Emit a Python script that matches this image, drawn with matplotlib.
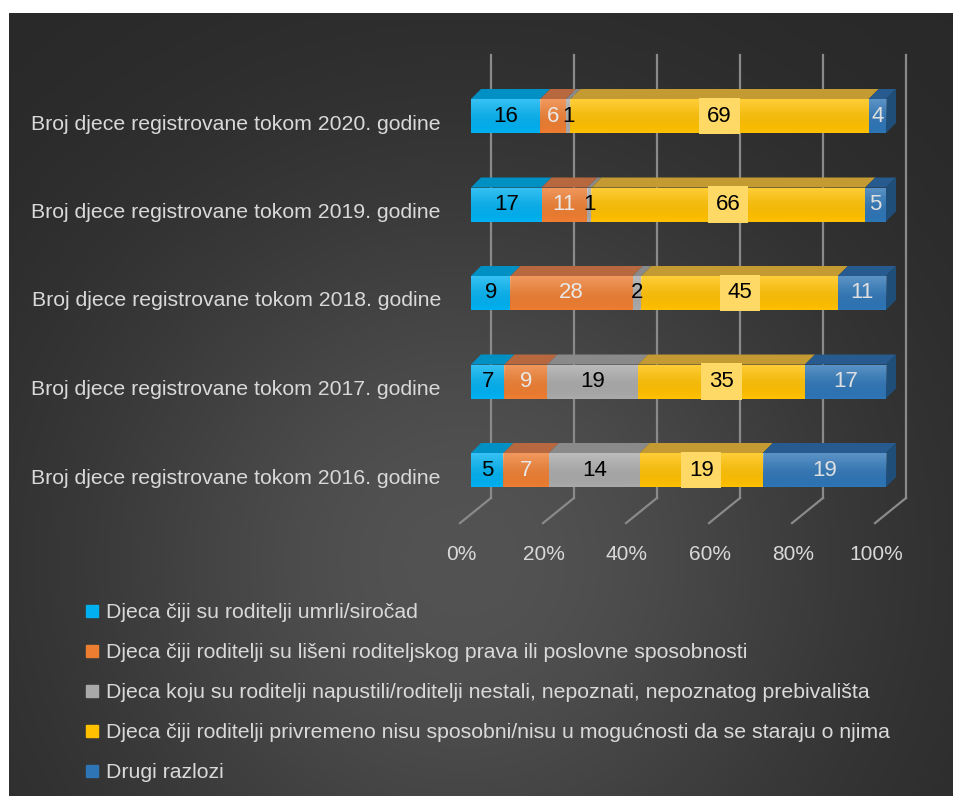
import numpy as np
import matplotlib.pyplot as plt
from matplotlib.patches import Polygon
from matplotlib.lines import Line2D
from matplotlib.transforms import ScaledTranslation

plt.rcParams['font.family'] = ['Liberation Sans', 'DejaVu Sans']

# data (bottom -> top)
years = ['2016', '2017', '2018', '2019', '2020']
categories = ['Broj djece registrovane tokom %s. godine' % y for y in years]
umrli = [5, 7, 9, 17, 16]
liseni = [7, 9, 28, 11, 6]
napustili = [14, 19, 2, 1, 1]
privremeno = [19, 35, 45, 66, 69]
drugi = [19, 17, 11, 5, 4]
series_names = ['Djeca čiji su roditelji umrli/siročad',
                'Djeca čiji roditelji su lišeni roditeljskog prava ili poslovne sposobnosti',
                'Djeca koju su roditelji napustili/roditelji nestali, nepoznati, nepoznatog prebivališta',
                'Djeca čiji roditelji privremeno nisu sposobni/nisu u mogućnosti da se staraju o njima',
                'Drugi razlozi']
ticks = [0, 20, 40, 60, 80, 100]

front = ['#00B0F0', '#ED7D31', '#A9A9A9', '#FFC000', '#2E75B6']
top = ['#0090C4', '#B8683E', '#8A8A8A', '#C49A32', '#275A8E']
lab_col = ['black', '#e8e8e8', 'black', 'black', '#e0e0e0']
txt = '#d9d9d9'

W, H = 954, 796
fig = plt.figure(figsize=(W / 100, H / 100), dpi=100)
fig.patch.set_facecolor('white')

# background panel with soft gradient
bg = fig.add_axes([9 / W, 0, 1 - 9 / W, (H - 13) / H])
gx, gy = np.meshgrid(np.linspace(0, 1, 300), np.linspace(0, 1, 300))
grad = 0.155 + 0.17 * np.exp(-((gx - 0.48) / 0.42) ** 2 - ((gy - 0.7) / 0.5) ** 2)
bg.imshow(np.dstack([grad] * 3), aspect='auto', extent=[0, 1, 1, 0])
bg.axis('off')

# main axes: x in percent, y in category units
ppx = 4.15    # pixels per percent
ppy = 88.5    # pixels per category
x0, x1 = -5, 110
y0, y1 = -0.75, 5.0
left_px = 471 + x0 * ppx
bot_px = 470 - y0 * ppy
ax = fig.add_axes([left_px / W, 1 - bot_px / H, (x1 - x0) * ppx / W, (y1 - y0) * ppy / H])
ax.set_xlim(x0, x1)
ax.set_ylim(y0, y1)
ax.patch.set_alpha(0)
for s in ax.spines.values():
    s.set_visible(False)

# 3D geometry offsets
ddx, ddy = 10 / ppx, 10 / ppy        # bar depth
wall_dx = 20 / ppx                    # back wall offset
floor_dx, floor_dy = -11 / ppx, -0.6  # floor front edge
wall_top, floor_back = 4.69, -0.316
bh = 34 / ppy

# gridlines on back wall + floor
for t in ticks:
    ax.plot([t + wall_dx, t + wall_dx], [floor_back, wall_top], color='#8a8a8a', lw=1.6, zorder=1)
    ax.plot([t + wall_dx, t + floor_dx], [floor_back, floor_dy], color='#8a8a8a', lw=1.6, zorder=1)

data = np.array([umrli, liseni, napustili, privremeno, drugi], dtype=float)
pct = data / data.sum(axis=0) * 100
ypos = np.arange(len(years))
lefts = np.zeros(len(years))
shade = np.linspace(1.0, 0.0, 50).reshape(-1, 1)
for i in range(len(series_names)):
    bars = ax.barh(ypos, pct[i], left=lefts, height=bh, color=front[i], zorder=3)
    for b in bars:
        # light gradient over the front face
        im = ax.imshow(shade, cmap='Greys_r', alpha=shade * 0.22, aspect='auto', zorder=3.1,
                       extent=[b.get_x(), b.get_x() + b.get_width(), b.get_y(), b.get_y() + b.get_height()])
        im.set_clip_path(b)
    for j, y in enumerate(ypos):
        l, w = lefts[j], pct[i][j]
        yt = y + bh / 2
        ax.add_patch(Polygon([(l, yt), (l + ddx, yt + ddy), (l + w + ddx, yt + ddy), (l + w, yt)],
                             closed=True, facecolor=top[i], edgecolor='none', zorder=2.5))
        kw = dict(ha='center', va='center', fontsize=16, color=lab_col[i], zorder=5)
        if i == 3:
            kw['bbox'] = dict(boxstyle='square,pad=0.35', facecolor='#FFD966', edgecolor='none')
        ax.text(l + w / 2, y, '%d' % data[i][j], **kw)
    lefts += pct[i]
ax.set_xlim(x0, x1)
ax.set_ylim(y0, y1)

# right side face
for y in ypos:
    yb, yt = y - bh / 2, y + bh / 2
    ax.add_patch(Polygon([(100, yb), (100, yt), (100 + ddx, yt + ddy), (100 + ddx, yb + ddy)],
                         closed=True, facecolor='#1F4E79', edgecolor='none', zorder=2.5))

ax.set_yticks(ypos)
ax.set_yticklabels(categories, fontsize=15.3, color=txt)
ax.set_xticks(ticks)
ax.set_xticklabels(['%d%%' % t for t in ticks], fontsize=15, color=txt)
ax.tick_params(axis='both', length=0)
ax.tick_params(axis='y', pad=(left_px - 441) * 0.72)
ax.tick_params(axis='x', pad=6)
for lbl in ax.get_yticklabels():
    lbl.set_transform(lbl.get_transform() + ScaledTranslation(0, -6 / 100, fig.dpi_scale_trans))
for lbl in ax.get_xticklabels():
    lbl.set_transform(lbl.get_transform() + ScaledTranslation(-10 / 100, 0, fig.dpi_scale_trans))

handles = [Line2D([], [], marker='s', linestyle='none', markersize=8, color=c) for c in front]
leg = fig.legend(handles, series_names, loc='upper left', bbox_to_anchor=(86 / W, 1 - 603 / H),
                 frameon=False, fontsize=15.3, labelspacing=0.99, handlelength=0.6,
                 handletextpad=0.35, borderpad=0, borderaxespad=0)
for t in leg.get_texts():
    t.set_color(txt)

fig.savefig('out.png', dpi=100, facecolor=fig.get_facecolor())
